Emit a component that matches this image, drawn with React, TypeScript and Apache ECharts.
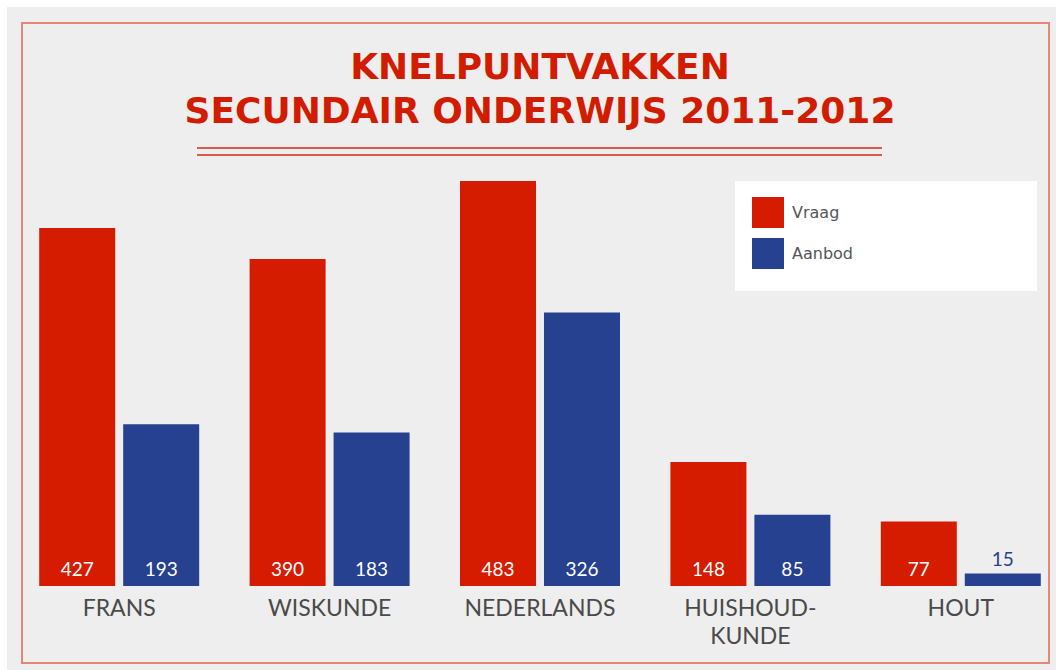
import React, { useEffect, useRef } from "react";
import * as echarts from "echarts";

const categories = ["FRANS", "WISKUNDE", "NEDERLANDS", "HUISHOUD-\nKUNDE", "HOUT"];
const vraag = [427, 390, 483, 148, 77];
const aanbod = [193, 183, 326, 85, 15];
const seriesNames = ["Vraag", "Aanbod"];
const titleLines = ["KNELPUNTVAKKEN", "SECUNDAIR ONDERWIJS 2011-2012"];

const RED = "#d51b00";
const BLUE = "#25418f";

function buildData(values: number[], color: string) {
  return values.map((v) =>
    v < 30
      ? {
          value: v,
          label: { position: "top", color, distance: 5 },
        }
      : { value: v }
  );
}

export default function App() {
  const ref = useRef<HTMLDivElement>(null);
  useEffect(() => {
    if (!ref.current) return;
    const chart = echarts.init(ref.current, null, { renderer: "svg" });
    const labelBase = {
      show: true,
      position: "insideBottom",
      distance: 8,
      color: "#ffffff",
      fontSize: 19,
      fontFamily: "Lato",
    };
    const titleFont = "bold 36px 'DejaVu Sans'";
    chart.setOption({
      animation: false,
      backgroundColor: "#ffffff",
      graphic: [
        { type: "rect", z: -10, shape: { x: 7, y: 7, width: 1049, height: 663 }, style: { fill: "#eeeeee" } },
        { type: "rect", z: -9, shape: { x: 22, y: 23, width: 1027, height: 640 }, style: { fill: "none", stroke: "#e5867b", lineWidth: 2 } },
        { type: "line", shape: { x1: 197, y1: 148, x2: 882, y2: 148 }, style: { stroke: "#dc5a48", lineWidth: 2 } },
        { type: "line", shape: { x1: 197, y1: 155, x2: 882, y2: 155 }, style: { stroke: "#dc5a48", lineWidth: 2 } },
        {
          type: "text",
          x: 540,
          y: 66,
          style: {
            text: titleLines[0],
            fill: "#d21c00",
            font: titleFont,
            textAlign: "center",
            textVerticalAlign: "middle",
          },
        },
        {
          type: "text",
          x: 540,
          y: 110,
          style: {
            text: titleLines[1],
            fill: "#d21c00",
            font: titleFont,
            textAlign: "center",
            textVerticalAlign: "middle",
          },
        },
        { type: "rect", z: 0, shape: { x: 735, y: 181, width: 302, height: 110 }, style: { fill: "#ffffff" } },
      ],
      legend: {
        data: seriesNames,
        orient: "vertical",
        left: 752,
        top: 197,
        padding: 0,
        itemWidth: 32,
        itemHeight: 31,
        itemGap: 10,
        icon: "rect",
        textStyle: { fontSize: 16, color: "#555555", fontFamily: "DejaVu Sans", padding: [0, 0, 0, 3] },
      },
      grid: { left: 14, width: 1052, top: 166.7, bottom: 84, containLabel: false },
      xAxis: {
        type: "category",
        data: categories,
        axisLine: { show: false },
        axisTick: { show: false },
        axisLabel: {
          color: "#4a4a4a",
          fontSize: 23,
          fontFamily: "Lato",
          margin: 7,
          lineHeight: 28,
          interval: 0,
        },
      },
      yAxis: {
        type: "value",
        min: 0,
        max: 500,
        show: false,
        splitLine: { show: false },
      },
      series: [
        {
          name: seriesNames[0],
          type: "bar",
          data: buildData(vraag, RED),
          barWidth: 76,
          barGap: "10.5%",
          itemStyle: { color: RED },
          label: labelBase,
        },
        {
          name: seriesNames[1],
          type: "bar",
          data: buildData(aanbod, BLUE),
          barWidth: 76,
          itemStyle: { color: BLUE },
          label: labelBase,
        },
      ],
    });
    return () => chart.dispose();
  }, []);
  return (
    <div style={{ position: "absolute", left: 0, top: 0, width: 1056, height: 670, overflow: "hidden" }}>
      <div ref={ref} style={{ width: 1100, height: 670 }} />
    </div>
  );
}
